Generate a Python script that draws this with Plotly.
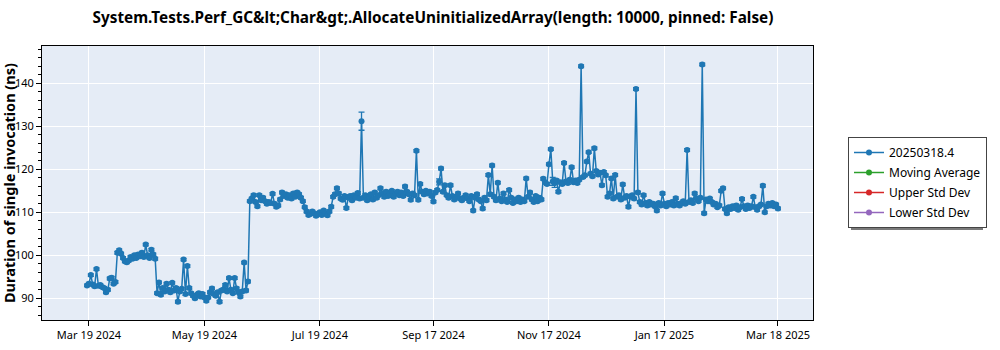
import pandas as pd
import plotly.graph_objects as go

START_DATE = "2024-03-18"

seg_a = [93.0, 93.4, 95.4, 93.2, 92.8, 96.8, 92.9, 93.1, 92.6, 92.4, 91.4, 92.0, 94.6, 94.8, 93.4, 93.8]
seg_b = [100.6, 101.2, 100.4, 99.4, 98.6, 98.4, 98.8, 99.6, 99.2, 100.0, 99.4, 100.2, 99.8, 100.6, 99.6,
         102.5, 100.0, 99.4, 101.3, 100.2, 99.2]
seg_c = [91.2, 93.7, 90.8, 92.4, 91.6, 93.4, 92.0, 91.4, 93.6, 91.8, 92.4, 89.2, 91.6, 92.2, 99.0, 91.0,
         97.5, 92.4, 91.2, 90.6, 90.0, 90.8, 91.2, 90.4, 91.0, 90.2, 89.4, 90.2, 91.4, 92.3, 91.0, 90.6,
         91.4, 89.2, 91.8, 92.0, 93.1, 91.6, 94.7, 92.0, 91.2, 94.7, 92.3, 91.4, 90.4, 91.6, 98.3, 91.8, 93.9]
seg_d = [112.6, 113.2, 114.0, 112.4, 111.4, 114.0, 112.8, 113.4, 112.6, 112.0, 112.4, 112.2, 114.3, 112.0,
         111.3, 111.6, 113.0, 114.6, 113.8, 114.2, 113.4, 114.0, 113.2, 114.4, 113.6, 114.6, 114.2, 113.4,
         112.6, 111.2]
seg_e = [110.2, 109.4, 109.6, 110.2, 109.8, 109.2, 109.6, 110.0, 109.4, 110.4, 109.8, 109.3, 110.2, 111.3]
seg_f = [113.6, 114.2, 115.6, 114.4, 113.2, 112.9, 113.8, 111.0, 113.4, 113.8, 112.8, 114.0, 113.4, 114.5,
         113.2, 131.2, 113.4, 114.0, 112.8, 113.6, 114.2, 113.0, 114.6, 113.4, 114.0, 115.6, 114.4, 113.6,
         114.8, 113.8, 114.2, 115.0, 113.6, 114.4, 114.8, 114.0, 114.6, 113.8, 116.0, 114.8, 114.2, 112.9,
         114.4, 114.0, 124.3, 112.9, 116.6, 114.8, 114.2, 115.0, 114.4, 114.8, 113.8, 112.5, 114.6, 115.2,
         117.1, 120.2, 114.8, 116.3, 114.0, 113.4, 116.3, 113.8, 113.0, 113.6, 114.4, 113.2, 112.8, 113.4,
         114.0, 113.2, 112.6, 113.8, 110.4, 113.4, 114.2, 113.0, 112.6, 110.9, 113.4, 112.8, 118.7, 114.2,
         120.9, 113.6, 112.8, 116.9, 113.2, 112.6, 114.4, 113.0, 112.4, 115.2, 113.4, 112.2, 113.0, 112.6,
         113.4, 112.4, 113.0, 112.6, 117.9, 113.6, 114.6, 113.0, 112.4, 113.8, 112.6, 113.4]
seg_g = [113.0, 117.8, 117.0, 116.6, 121.2, 124.7, 117.2, 116.8, 117.4, 114.8, 117.0, 116.6, 121.5, 117.2,
         116.8, 117.6, 120.5, 117.0, 117.4, 116.8, 117.6, 144.0, 118.2, 118.6, 121.8, 124.0, 119.0, 118.4,
         124.9, 119.6, 118.8, 119.2, 116.3, 119.4, 118.6]
seg_h = [113.6, 114.4, 117.9, 113.2, 118.7, 113.6, 114.0, 113.0, 116.5, 113.4, 113.8, 111.3, 113.6, 114.0,
         113.2, 138.7, 114.6]
seg_i = [112.4, 111.8, 114.0, 112.2, 111.6, 112.4, 111.8, 112.0, 111.4, 110.4, 112.2, 111.6, 114.4, 112.0,
         111.4, 112.2, 111.8, 112.4, 111.6, 113.3, 112.0, 111.6, 112.2, 112.6, 112.0, 124.5, 112.4, 112.8,
         112.2, 114.4, 113.2, 112.6, 113.4, 144.4, 109.8, 113.0, 112.6, 113.2, 112.4, 111.8, 112.0, 111.2,
         111.6, 115.0, 115.6, 110.8, 109.8, 111.2, 110.8, 111.4, 111.0, 111.6, 110.6, 111.2, 113.1, 111.4,
         110.8, 111.6, 111.0, 111.4, 113.6, 111.2, 110.6, 111.4, 111.8, 116.2, 110.0, 111.4, 112.0, 111.6,
         112.2, 111.4, 111.8, 110.9]

durations = seg_a + seg_b + seg_c + seg_d + seg_e + seg_f + seg_g + seg_h + seg_i
dates = pd.date_range(START_DATE, periods=len(durations), freq="D")

default_std = 0.3
large_std = {"2024-08-10": 2.1, "2024-09-20": 0.7, "2024-11-19": 0.9, "2024-11-20": 1.0}
std_dev = [large_std.get(d.strftime("%Y-%m-%d"), default_std) for d in dates]

tick_dates = ["2024-03-19", "2024-05-19", "2024-07-19", "2024-09-17", "2024-11-17", "2025-01-17", "2025-03-18"]
tick_labels = ["Mar 19 2024", "May 19 2024", "Jul 19 2024", "Sep 17 2024", "Nov 17 2024", "Jan 17 2025", "Mar 18 2025"]

series_name = "20250318.4"
other_names = ["Moving Average", "Upper Std Dev", "Lower Std Dev"]
colors = ["#1f77b4", "#2ca02c", "#d62728", "#9467bd"]

FONT = "Noto Sans"
W, H = 1000, 350
ML, MR, MT, MB = 42, 187, 46, 30
PW, PH = W - ML - MR, H - MT - MB


def px_x(px):
    return (px - ML) / PW


def px_y(py):
    return (H - MB - py) / PH


fig = go.Figure()
fig.add_trace(go.Scatter(
    x=dates, y=durations, name=series_name, mode="lines+markers",
    line=dict(color=colors[0], width=1.5),
    marker=dict(color=colors[0], size=6),
    error_y=dict(type="data", array=std_dev, visible=True, color=colors[0], thickness=1.3, width=3),
    legendgroup="g0",
))
for i, nm in enumerate(other_names):
    fig.add_trace(go.Scatter(
        x=[None], y=[None], name=nm, mode="lines+markers",
        line=dict(color=colors[i + 1], width=1.5),
        marker=dict(color=colors[i + 1], size=6),
        legendgroup=f"g{i+1}",
    ))

# legend shadow (drawn behind the legend box, offset right/down)
lx0, ly0, lx1, ly1 = 848, 137, 980, 227
fig.add_shape(type="rect", xref="paper", yref="paper",
              x0=px_x(lx0 + 3), x1=px_x(lx1 + 3), y0=px_y(ly1 + 3), y1=px_y(ly0 + 3),
              fillcolor="#7a7a7a", line=dict(width=0), layer="above")

# y-axis title
fig.add_annotation(text="<b>Duration of single invocation (ns)</b>", textangle=-90,
                   xref="paper", yref="paper", x=px_x(9), y=0.5, xanchor="center", yanchor="middle",
                   showarrow=False, font=dict(family=FONT, size=14.5, color="black"))

fig.update_layout(
    width=W, height=H,
    margin=dict(l=ML, r=MR, t=MT, b=MB, autoexpand=False),
    paper_bgcolor="white", plot_bgcolor="#e5ecf6",
    font=dict(family=FONT, size=12, color="black"),
    title=dict(text="<b>System.Tests.Perf_GC&amp;lt;Char&amp;gt;.AllocateUninitializedArray(length: 10000, pinned: False)</b>",
               x=0.433, xanchor="center", y=1 - 18 / H, yanchor="middle", xref="container",
               font=dict(family=FONT, size=15.3, color="black")),
    showlegend=True,
    legend=dict(x=px_x(lx0), y=px_y(ly0), xanchor="left", yanchor="top",
                bgcolor="white", bordercolor="#444", borderwidth=1,
                font=dict(family=FONT, size=12), tracegroupgap=1),
    xaxis=dict(range=["2024-02-23 05:00", "2025-04-05 12:00"], tickvals=tick_dates, ticktext=tick_labels,
               showgrid=True, gridcolor="white", gridwidth=1, automargin=False,
               showline=True, linecolor="black", linewidth=1, mirror=True,
               ticks="outside", ticklen=5, tickcolor="black", zeroline=False,
               tickfont=dict(family=FONT, size=11)),
    yaxis=dict(range=[84.95, 148.7], dtick=10, tick0=0, automargin=False,
               showgrid=True, gridcolor="white", gridwidth=1,
               showline=True, linecolor="black", linewidth=1, mirror=True,
               ticks="outside", ticklen=5, tickcolor="black", zeroline=False,
               minor=dict(dtick=2, ticks="outside", ticklen=3, tickcolor="black", showgrid=False),
               tickfont=dict(family=FONT, size=11)),
)

fig.write_html("out.html")
